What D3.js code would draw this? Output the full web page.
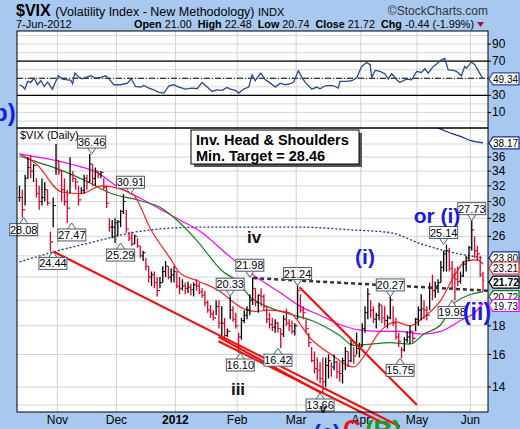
<!DOCTYPE html>
<html><head><meta charset="utf-8">
<script src="https://cdn.jsdelivr.net/npm/d3@7"></script>
<style>body{margin:0;background:#a8c8f0}svg{display:block}text{font-family:Arial,"Liberation Sans",sans-serif}</style>
</head><body><svg id="c" width="520" height="429"></svg>
<script>
// ---- Data ----
const high = [32,31.5,33.5,36,36.3, 35,33,32,33,32.5, 31.5,26.5,30.5,38,35.5, 34,33,31.5,36,34,
 33,32,31.8,33.5,33.5, 36.46,35,34.5,34,34, 33,32,28,27.8,28, 27.8,29,30.91,29,26.5,
 26.5,26.2,25.8,25,24.5, 23.8,23,22.5,22.5,22, 22,23,23.5,23,22.8, 23,22.5,22,21.8,21.5,21.6,21.4,
 21.5,21.8,21.5,21,20.8, 20,19.6,19.2,20,20, 19.5,18.6,17.8,20.33,19.5, 19,17.5,18.6,19.2,19.5,
 20.5,21.98,21,20.5,21, 20.5,19.5,19,18.6,18.5, 18.3,17.8,18.8,19.3,18.5, 18.4,18.2,21.24,20.5,19.5,
 18.5,17.5,16.5,16.2,15.8, 15.5,15.8,15.8,16,15.5, 16,15.6,15.5,15.8,16.5,16.2, 17,16.5,17.5,16.8,18.2,
 19.5,21,20,19.5,19, 19.8,19.6,19.5,18.8,20.27, 19.5,18.6,17.5,16.5,17.2, 17.6,18,17.6,18.6,19.5,
 20.5,20,19.5,21.5,22.2, 21.6,21.8,23.5,24.5,25.14, 24.8,23.5,22.8,23,22.5,
 23.5,24,25,27.73,26,25,24,22.48];
const low = [30,28.08,29.5,33,33, 32.5,30.5,29,29.5,30, 29.5,24.44,27,33.5,33.5, 30,29.5,27.47,31,32.5,
 31.5,29.5,31,31,31.5, 32.5,32,32,33,33, 31.5,29.2,26.5,25.8,25.29, 26,27,28.5,26.4,25.5,
 25,25.2,24.8,23.8,23.5, 22.6,21.5,21.2,21,20.3, 21,21.5,22,21.8,21.5, 21.5,21,20.5,20.8,20.5,20.6,20.4,
 20.3,20.8,20.5,20.2,19.5, 19,18.6,18.4,18.8,17.8, 17.2,17,17.2,18.5,18.3, 17.8,16.1,17,18.2,18.5,
 18.8,19.6,19.5,19,19.5, 19.2,18.2,17.8,17.6,17.5, 17.5,16.42,17.2,18,17.6, 17.4,17.3,18.5,19,18.5,
 17.5,16.5,15.5,14.8,14.4, 14.2,13.66,14,14.5,14.6, 15,14.5,14.3,14.2,15,15.2, 15.5,15.4,16,15.8,16.5,
 17.5,18.5,18.6,18.2,17.8, 18.4,18.2,18,17.8,18.5, 18,17,16.5,15.75,16.2, 16.8,16.7,16.8,17.6,18,
 18.4,18.5,18.4,19.2,20, 20.2,20.6,21.5,22.5,22.5, 22.5,21,19.98,21.2,21.4,
 22,22.5,23.5,24.5,23.8,23.5,22,20.74];
const close = [30.5,29,33,34.5,34, 34.8,31,30,30.5,31.5, 29.8,25.4,29.5,35.5,34, 31.5,30,29.2,33.5,33,
 32.5,30.2,31.4,33,32.5, 35,33,34,33.5,33.8, 31.8,29.8,27,27,27.5, 27.6,28.8,30,26.8,25.8,
 25.2,26,25,24,24.3, 23,22,22.2,21.5,20.8, 21.5,22.5,23,22,22.2, 22.5,21.2,21,21.2,21,21.1,20.9,
 21.3,21.2,20.7,20.4,19.8, 19.2,18.9,18.6,19.5,18.2, 18.2,17.3,17.6,19.2,18.5, 18,17.2,18.4,18.8,19.2,
 20,21,19.8,20.4,20.3, 19.5,18.5,18.1,17.9,18.2, 17.8,17.4,18.5,18.2,18, 17.6,18,20.8,19.2,19,
 17.8,16.8,15.6,15.1,15, 14.5,14.3,15.3,15.6,15.2, 15.5,14.9,14.8,15.6,16.2,15.6, 16.7,15.9,16.4,16.5,17.8,
 19,20.5,19.2,18.5,18.8, 19.6,18.6,18.4,18.6,20, 18.2,17.2,16.9,16.3,17, 17.2,17.6,17.1,18.5,19.2,
 19.3,19.2,18.8,21,20.8, 21.2,21.5,22.9,24.2,24.5, 22.8,22.2,21.8,21.6,22.1,
 23.2,23.8,24.8,26.7,24.5,24.2,22.2,21.72];
const monthLabels = ["Nov","Dec","2012","Feb","Mar","Apr","May","Jun"];
const monthIdx = [14,35,56,78,99,122,142,161];
const yTicks = [14,16,18,20,22,24,26,28,30,32,34,36,38];
const yLabelTicks = [14,16,18,26,28,30,32,34,36];
const rsiTicks = [10,30,50,70,90];
const maRed = [[0,36.5],[6,35],[15,31.2],[22,31],[29,32],[40,31],[47,26.6],[54,23.6],[57,22.4],[64,21.6],[71,20.8],[79,19.4],[84,19.1],[89,19.2],[96,19],[104,17],[111,16],[119,15.2],[123,16],[128,17.5],[134,18.3],[139,18],[143,18.5],[150,20],[155,22.2],[159,23.5],[163,23.6],[165,23.21]];
const maGreen = [[0,36.2],[4,35.6],[15,34.1],[25,32.4],[32,31.1],[43,30.1],[50,29.3],[56,27.8],[63,25.6],[72,22.6],[78,21.5],[82,20.3],[88,19.5],[96,18.9],[104,18.4],[114,17.3],[119,16.6],[125,16.7],[132,16.8],[139,16.7],[144,17.4],[150,18.1],[155,19.8],[165,20.72]];
const maMag = [[0,36.5],[4,36.2],[18,35],[29,33.5],[34,32.1],[43,30.4],[56,28],[64,26.6],[75,23.9],[82,22.4],[86,21.7],[93,20.6],[100,19.5],[107,18.8],[114,18.1],[121,17.7],[128,17.6],[135,17.6],[143,17.4],[150,17.6],[157,18.4],[162,19],[165,19.73]];
const maBlueDot = [[0,23.4],[11,24.3],[29,25.6],[40,26.4],[50,26.8],[64,27],[85,27],[100,27],[118,26.7],[132,26.4],[143,25.2],[153,24.4],[165,23.8]];
const maBlueTop = [[149,40.6],[152,40],[157,39.2],[161,38.5],[165,38.17]];
const rsiIdx = [0,1.1,1.9,2.9,4,5.2,6.4,7.6,8.8,10,11.7,13.8,15.3,17.1,18.3,18.9,19.7,21.2,22.4,23.9,25.4,27.1,28.9,30.7,31.9,33.6,36,38.4,39.8,41.3,43.1,44.3,46.1,47.8,49.6,51.4,53.2,54.9,56.7,59.1,61.5,63.2,65,66.8,68.6,70.3,72.1,73.9,75.1,76.9,78,79.8,81.6,82.8,83.9,85.9,87.5,89.3,91.1,92.8,94.6,96.4,97.6,99.3,100.5,101.7,104.1,105.8,107,108.8,110.6,111.8,113.5,114.1,116.5,118.3,120,121.8,123.6,124.8,125.4,126.6,128.3,130.1,131.3,132.5,134.3,135.4,136.6,137.8,139.6,141.4,143.1,144.3,145.5,147.3,148.5,150.2,151.4,152.6,154.4,155.6,157.3,158.5,159.1,160.9,162.1,165];
const rsiVal = [42.4,40.4,37.3,46.3,45.1,50.2,42.4,47.1,40.4,45.5,37.3,52.9,49,48.2,47.5,43.6,56,51,49.4,51.4,52.9,50.2,51,52.9,49,42.4,42.4,44.3,49.4,40.4,39.7,41.6,38.5,36.5,33.4,32.7,41.2,42.4,39.7,37.3,38.5,37.7,45.1,39.7,34.6,36.5,35.8,39.3,37.3,35.8,32.7,37.3,39.7,54.1,47.1,56,48.2,44.3,39.7,44.3,42.4,43.6,45.5,58.8,51.4,45.1,37.3,39.7,37.7,41.2,41.6,41.2,38.5,46.3,46.3,47.1,50.2,63.8,68.5,65.8,51,59.2,58,55.3,49,55.3,48.2,45.1,47.1,49,48.2,58,56.8,61.1,56,63.8,66.6,71.6,73.2,59.9,59.2,58,52.9,63.8,61.9,68.9,65.8,49.34];
const trendRed = [[[12,24.44],[135.4,11.9]],[[70.8,17.2],[107,13.7]],[[70.8,16.9],[132,11.9]],[[99.7,21.1],[141.5,13.0]]];
const neckline = [[83.2,21.9],[166.7,20.8]];
const labels = [[1.5,28.08,"b"],[11.9,24.44,"b"],[18.6,27.47,"b"],[25.7,36.46,"t"],[36,25.29,"b"],[39.5,30.91,"t"],[75,20.33,"t"],[78.6,16.10,"b"],[82,21.98,"t"],[92,16.42,"b"],[99,21.24,"t"],[107,13.66,"b"],[132,20.27,"t"],[135.5,15.75,"b"],[151,25.14,"t"],[154,19.98,"b"],[161,27.73,"t"]];

// ---- Layout ----
const svg = d3.select("#c");
const L=17, R=488, rT=31, rB=128, mT=128, mB=412;
const x = d3.scaleLinear().domain([0,165]).range([19.5,483]);
const y = d3.scaleLog().domain([14,38]).range([387,144]);
const yr = d3.scaleLinear().domain([0,100]).range([121,35.5]);

svg.append("rect").attr("width",520).attr("height",429).attr("fill","#a8c8f0");
svg.append("rect").attr("x",L).attr("y",rT).attr("width",R-L).attr("height",rB-rT).attr("fill","#fff");
svg.append("rect").attr("x",L).attr("y",mT).attr("width",R-L).attr("height",mB-mT).attr("fill","#fff");
const defs=svg.append("defs");
defs.append("clipPath").attr("id","cm").append("rect").attr("x",L).attr("y",mT).attr("width",R-L).attr("height",mB-mT);
defs.append("clipPath").attr("id","cr").append("rect").attr("x",L).attr("y",rT).attr("width",R-L).attr("height",rB-rT);

const g=svg.append("g");
yTicks.concat([13]).forEach(v=>g.append("line").attr("x1",L).attr("x2",R).attr("y1",y(v)).attr("y2",y(v)).attr("stroke","#d4d4d4"));
d3.range(0,101,10).forEach(v=>g.append("line").attr("x1",L).attr("x2",R).attr("y1",yr(v)).attr("y2",yr(v)).attr("stroke","#d8d8d8"));
monthIdx.forEach(i=>{const xx=x(i-0.5);
  g.append("line").attr("x1",xx).attr("x2",xx).attr("y1",mT).attr("y2",mB).attr("stroke","#cfcfd8");
  g.append("line").attr("x1",xx).attr("x2",xx).attr("y1",rT).attr("y2",rB).attr("stroke","#cfcfd8");});

const rg=svg.append("g").attr("clip-path","url(#cr)");
[[70,null],[30,null],[50,"6,2,1,2"]].forEach(([v,d])=>rg.append("line").attr("x1",L).attr("x2",R).attr("y1",yr(v)).attr("y2",yr(v)).attr("stroke","#000").attr("stroke-width",1.2).attr("stroke-dasharray",d));
rg.append("path").attr("d",d3.line().x((d,i)=>x(rsiIdx[i])).y(d=>yr(d))(rsiVal)).attr("fill","none").attr("stroke","#2a4a8a").attr("stroke-width",1.3);

const mg=svg.append("g").attr("clip-path","url(#cm)");
const ln=d3.line().x(d=>x(d[0])).y(d=>y(d[1])).curve(d3.curveMonotoneX);
mg.append("path").attr("d",ln(maBlueDot)).attr("fill","none").attr("stroke","#1a2f8a").attr("stroke-width",1.3).attr("stroke-dasharray","2,2");
mg.append("path").attr("d",ln(maBlueTop)).attr("fill","none").attr("stroke","#1a2f8a").attr("stroke-width",1.2);
mg.append("path").attr("d",ln(maMag)).attr("fill","none").attr("stroke","#ff00ff").attr("stroke-width",1.2);
mg.append("path").attr("d",ln(maGreen)).attr("fill","none").attr("stroke","#1a7a1a").attr("stroke-width",1.2);
mg.append("path").attr("d",ln(maRed)).attr("fill","none").attr("stroke","#ff2020").attr("stroke-width",1.2);

close.forEach((c,i)=>{
  const prev=i>0?close[i-1]:c, col=c<prev?"#e0002a":"#000", xx=x(i);
  mg.append("line").attr("x1",xx).attr("x2",xx).attr("y1",y(high[i])).attr("y2",y(low[i])).attr("stroke",col).attr("stroke-width",1.3);
  mg.append("line").attr("x1",xx-1.5).attr("x2",xx).attr("y1",y(prev)).attr("y2",y(prev)).attr("stroke",col);
  mg.append("line").attr("x1",xx).attr("x2",xx+1.5).attr("y1",y(c)).attr("y2",y(c)).attr("stroke",col);
});

const tl=svg.append("g");
tl.append("line").attr("x1",x(neckline[0][0])).attr("y1",y(neckline[0][1])).attr("x2",R).attr("y2",y(neckline[0][1])+(y(neckline[1][1])-y(neckline[0][1]))*(R-x(neckline[0][0]))/(x(neckline[1][0])-x(neckline[0][0])))
  .attr("stroke","#333").attr("stroke-width",2.5).attr("stroke-dasharray","4,3");
trendRed.forEach(p=>tl.append("line").attr("x1",x(p[0][0])).attr("y1",y(p[0][1])).attr("x2",x(p[1][0])).attr("y2",y(p[1][1])).attr("stroke","#f01010").attr("stroke-width",2.2));

labels.forEach(([i,v,pos])=>{
  const xx=x(i), yy=y(v), t=v.toFixed(2), w=28,h=12;
  const by = pos==="t"? yy-6-h : yy+6;
  const lg=svg.append("g");
  lg.append("path").attr("d",pos==="t"?`M${xx-4},${by+h}L${xx},${yy}L${xx+4},${by+h}`:`M${xx-4},${by}L${xx},${yy}L${xx+4},${by}`).attr("fill","#fff").attr("stroke","#4a5a70");
  lg.append("rect").attr("x",xx-w/2).attr("y",by).attr("width",w).attr("height",h).attr("fill","#fff").attr("stroke","#4a5a70");
  lg.append("text").attr("x",xx).attr("y",by+10).attr("text-anchor","middle").attr("font-size",11).text(t);
});

svg.append("rect").attr("x",L).attr("y",rT).attr("width",R-L).attr("height",rB-rT).attr("fill","none").attr("stroke","#000");
svg.append("rect").attr("x",L).attr("y",mT).attr("width",R-L).attr("height",mB-mT).attr("fill","none").attr("stroke","#000");

yLabelTicks.forEach(v=>{svg.append("line").attr("x1",R).attr("x2",R+3).attr("y1",y(v)).attr("y2",y(v)).attr("stroke","#000");
  svg.append("text").attr("x",R+4).attr("y",y(v)+4).attr("font-size",12).text(v);});
rsiTicks.forEach(v=>{svg.append("line").attr("x1",R).attr("x2",R+3).attr("y1",yr(v)).attr("y2",yr(v)).attr("stroke","#000");
  if(v!==50) svg.append("text").attr("x",R+4).attr("y",yr(v)+4).attr("font-size",12).text(v);});
monthLabels.forEach((m,k)=>svg.append("text").attr("x",x(monthIdx[k]-0.5)).attr("y",424).attr("text-anchor","middle").attr("font-size",12).attr("font-weight",m==="2012"?"bold":"normal").text(m));

function tag(v,col,yy,bold){
  const tg=svg.append("g");
  tg.append("line").attr("x1",R).attr("x2",520).attr("y1",yy).attr("y2",yy).attr("stroke",col).attr("stroke-width",1);
  tg.append("path").attr("d",`M${R+1},${yy}L${R+5},${yy-6}H519V${yy+6}H${R+5}Z`).attr("fill","#fff").attr("stroke",col).attr("stroke-width",1.2);
  tg.append("text").attr("x",R+5).attr("y",yy+4).attr("font-size",bold?11.5:11).attr("font-weight",bold?"bold":"normal").attr("textLength",bold?26:25).attr("lengthAdjust","spacingAndGlyphs").text(v.toFixed(2));
}
tag(38.17,"#1a2f8a",y(38.17));
tag(23.80,"#1a2f8a",y(23.80));
tag(23.21,"#ff2020",y(23.21)+4);
tag(21.72,"#000",y(21.72)+2,true);
tag(20.72,"#1a7a1a",y(20.72)+5);
tag(19.73,"#ff00ff",y(19.73)+2);
tag(49.34,"#2a4a8a",yr(49.34));

svg.append("rect").attr("x",194).attr("y",133).attr("width",168).attr("height",34).attr("fill","#555");
svg.append("rect").attr("x",191).attr("y",130).attr("width",168).attr("height",34).attr("fill","#fff").attr("stroke","#000");
svg.append("text").attr("x",196).attr("y",145).attr("font-size",14.5).attr("font-weight","bold").text("Inv. Head & Shoulders");
svg.append("text").attr("x",196).attr("y",161).attr("font-size",14.5).attr("font-weight","bold").text("Min. Target = 28.46");
svg.append("text").attr("x",20).attr("y",139).attr("font-size",11).text("$VIX (Daily)");

const wl=(t,xx,yy,c,s)=>svg.append("text").attr("x",xx).attr("y",yy).attr("text-anchor","middle").attr("font-size",s).attr("font-weight","bold").attr("fill",c).text(t);
wl("(i)",365,264,"#1a1ae0",21);
wl("or (i)",437,223,"#1a1ae0",21);
wl("(ii)",477,320,"#1a1ae0",23);
wl("iv",254,243,"#111",17);
wl("iii",238,395,"#111",17);
wl("v",323,413,"#111",12);
wl("(c)",327,440,"#1a1ae0",22);
wl("C",352,437,"#f01010",24);
wl("(B)",383,439,"#1a9a1a",26);
svg.append("text").attr("x",-7).attr("y",121).attr("font-size",24).attr("font-weight","bold").attr("fill","#1a1ae0").text("b)");

const h1=svg.append("text").attr("x",16).attr("y",16);
h1.append("tspan").attr("font-size",16).attr("font-weight","bold").text("$VIX ");
h1.append("tspan").attr("font-size",12.5).text("(Volatility Index - New Methodology) ");
h1.append("tspan").attr("font-size",11).text(" INDX");
svg.append("text").attr("x",488).attr("y",15).attr("text-anchor","end").attr("font-size",12).attr("fill","#333").text("©StockCharts.com");
svg.append("text").attr("x",16).attr("y",28).attr("font-size",11).text("7-Jun-2012");
const h2=svg.append("text").attr("x",134).attr("y",28).attr("font-size",11).attr("textLength",340).attr("lengthAdjust","spacingAndGlyphs");
[["Open"," 21.00  "],["High"," 22.48  "],["Low"," 20.74  "],["Close"," 21.72  "],["Chg"," -0.44 (-1.99%)"]].forEach(([a,b])=>{h2.append("tspan").attr("font-weight","bold").text(a);h2.append("tspan").attr("xml:space","preserve").text(b);});
svg.append("path").attr("d","M477,22h7l-3.5,5z").attr("fill","#b01030");
</script></body></html>
